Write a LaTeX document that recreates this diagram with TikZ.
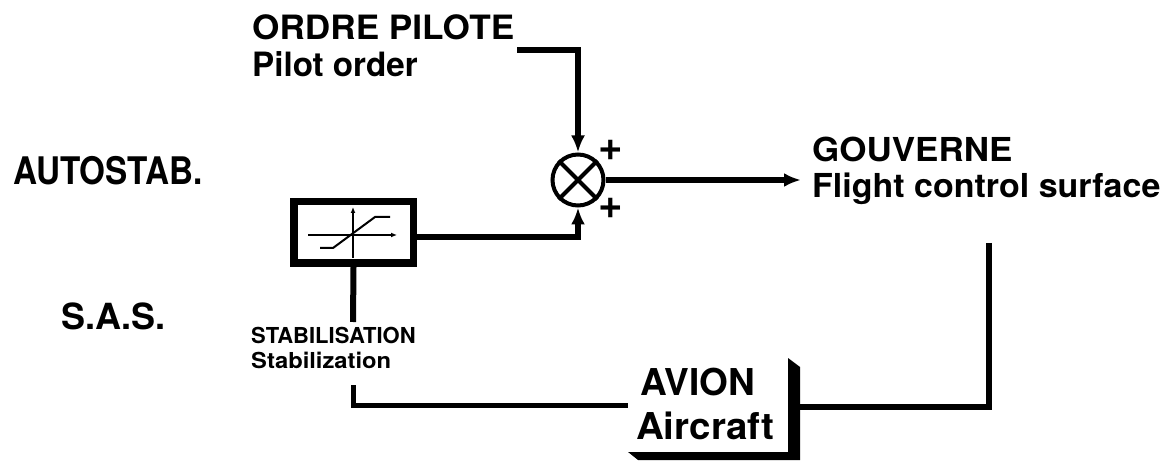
\documentclass[tikz,border=0pt]{standalone}
\usepackage{fontspec}
\setmainfont{TeX Gyre Heros}
\usetikzlibrary{arrows.meta}
\newcommand{\lbl}[2]{\bfseries\fontsize{#1}{#1}\selectfont\addfontfeatures{FakeStretch=#2}}
\tikzset{
  txt/.style={inner sep=0pt, anchor=base west},
  wire/.style={line width=6pt},
  thinwire/.style={line width=5pt},
  arr/.style={-{Latex[length=17pt,width=14pt]}},
  axis/.style={line width=2pt, -{Latex[length=6pt,width=5pt]}},
  plus/.style={inner sep=0pt, font=\lbl{42}{1}},
}
\begin{document}
\begin{tikzpicture}[x=1pt,y=-1pt]
\useasboundingbox (0,0) rectangle (1173,465);
% texts
\node[txt, font=\lbl{33.5}{1.05}] (ordre) at (252,40) {ORDRE PILOTE};
\node[txt, font=\lbl{33.5}{0.99}] (pilot) at (252,77) {Pilot order};
\node[txt, font=\lbl{33}{1.06}] (gouv) at (812,162) {GOUVERNE};
\node[txt, font=\lbl{33}{1.03}] (flight) at (812,198) {Flight control surface};
\node[txt, font=\lbl{38}{0.875}] (autostab) at (13,185) {AUTOSTAB.};
\node[txt, font=\lbl{36}{1}] (sas) at (61,329) {S.A.S.};
\node[txt, font=\lbl{22}{1}] (stabF) at (251,343) {STABILISATION};
\node[txt, font=\lbl{22}{1.08}] (stabE) at (251,368) {Stabilization};
\node[txt, font=\lbl{37}{1.0}] (avionF) at (640,395) {AVION};
\node[txt, font=\lbl{37}{1.04}] (avionE) at (636,439) {Aircraft};
% summing junction
\node[circle, draw, line width=4pt, minimum size=51pt, inner sep=0pt] (sum) at (578,180) {};
\draw[line width=4pt] (sum.45) -- (sum.225) (sum.135) -- (sum.315);
\node[plus] (plusA) at (610.5,150) {+};
\node[plus] (plusB) at (610.5,208) {+};
% saturation block
\node[draw, line width=7.5pt, minimum width=119.5pt, minimum height=61.5pt, inner sep=0pt] (sat) at (353.5,232.5) {};
\draw[axis] (308,235) -- (397,235);
\draw[axis] (353,258) -- (353,207);
\draw[line width=2pt] (320,248) -- (333,248) -- (375,217) -- (390,217);
% aircraft block
\node[minimum width=166pt, minimum height=104pt, inner sep=0pt] (avion) at (711,405) {};
\fill (628,452) -- (788,452) -- (788,358) -- (800,367) -- (800,460) -- (638,460) -- cycle;
% coordinates
\coordinate (pilotEnd) at (517,50);
\coordinate (gouvIn) at (801,180);
\coordinate (surfOut) at (989,243);
\coordinate (stabOut) at (353,322);
\coordinate (stabIn) at (353,385);
% connectors
\draw[wire, arr] (pilotEnd) -| (sum.north);
\draw[wire, arr] ([yshift=-5pt]sat.east) -| (sum.south);
\draw[wire, arr] (sum.east) -- (gouvIn);
\draw[wire] (surfOut) |- ([yshift=-2pt]avion.east);
\draw[thinwire] (avion.west) -| (stabIn);
\draw[wire] (sat.south) -- (stabOut);
\end{tikzpicture}
\end{document}
